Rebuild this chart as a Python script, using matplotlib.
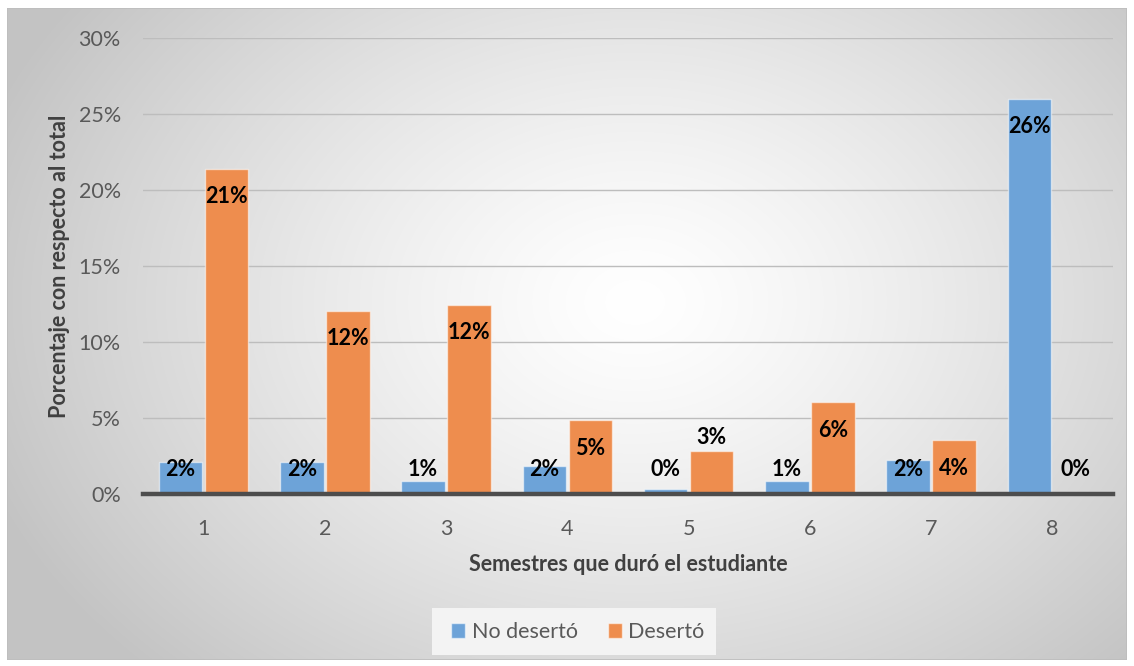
import numpy as np
import matplotlib
matplotlib.use("Agg")
import matplotlib.pyplot as plt
from matplotlib.patches import Rectangle

# Share of students (%) by number of semesters attended
semestres = ["1", "2", "3", "4", "5", "6", "7", "8"]
no_deserto = [2.1, 2.1, 0.85, 1.85, 0.35, 0.85, 2.25, 26.0]
deserto = [21.4, 12.05, 12.45, 4.85, 2.85, 6.05, 3.55, 0.0]
yticks = [0, 5, 10, 15, 20, 25, 30]

BLUE = "#6DA3D8"
ORANGE = "#EE8D4E"
TEXT = "#595959"
FONT = "Lato"

plt.rcParams["font.family"] = [FONT, "DejaVu Sans"]

W, H = 1134, 666
fig = plt.figure(figsize=(W / 100, H / 100), dpi=100, facecolor="white")

# Chart-area background: radial grey-to-white gradient with thin border
bg = fig.add_axes([7 / W, 1 - 660 / H, (1127 - 7) / W, (660 - 8) / H])
bg.set_axis_off()
ny, nx = 330, 560
yy, xx = np.mgrid[0:ny, 0:nx]
cx, cy = nx * 0.56, ny * 0.45
d = np.sqrt(((xx - cx) / (nx * 0.62)) ** 2 + ((yy - cy) / (ny * 0.80)) ** 2)
t = np.clip(d, 0, 1) ** 1.3
grey = 1.0 - t * (1.0 - 0.765)
img = np.dstack([grey, grey, grey])
bg.imshow(img, extent=[0, 1, 0, 1], aspect="auto", interpolation="bilinear")
bg.set_xlim(0, 1)
bg.set_ylim(0, 1)
bg.add_patch(Rectangle((0, 0), 1, 1, fill=False, edgecolor="#bdbdbd",
                       linewidth=1.2, transform=bg.transAxes))

ax = fig.add_axes([143 / W, 1 - 494 / H, (1113 - 143) / W, (494 - 38) / H])
ax.patch.set_alpha(0)

x = np.arange(len(semestres))
w = 0.36
off = 0.19
b1 = ax.bar(x - off, no_deserto, w, color=BLUE, edgecolor=(1, 1, 1, 0.55),
            linewidth=1.0, label="No desertó", zorder=3)
b2 = ax.bar(x + off, deserto, w, color=ORANGE, edgecolor=(1, 1, 1, 0.55),
            linewidth=1.0, label="Desertó", zorder=3)

FS = 15.5
ax.set_xlim(-0.5, len(semestres) - 0.5)
ax.set_ylim(0, 30)
ax.set_yticks(yticks)
ax.set_yticklabels([f"{v}%" for v in yticks], fontsize=FS, color=TEXT)
ax.set_xticks(x)
ax.set_xticklabels(semestres, fontsize=FS, color=TEXT)
ax.tick_params(length=0)
ax.tick_params(axis="x", pad=18)
ax.tick_params(axis="y", pad=16)
ax.grid(axis="y", color="#bdbdbd", linewidth=1.0, zorder=0)
ax.set_axisbelow(True)
for s in ["left", "right", "top"]:
    ax.spines[s].set_visible(False)
ax.spines["bottom"].set_color("#4d4d4d")
ax.spines["bottom"].set_linewidth(3.2)
ax.spines["bottom"].set_zorder(4)

ax.set_xlabel("Semestres que duró el estudiante", fontsize=FS,
              fontweight="bold", color="#404040", labelpad=11)
ax.set_ylabel("Porcentaje con respecto al total", fontsize=FS,
              fontweight="bold", color="#404040", labelpad=6)

# Value labels: just inside the bar top, never lower than a floor near the axis
inside = 1.85
floor = 1.6
above_orange = {4}
for bars, vals, series in ((b1, no_deserto, "n"), (b2, deserto, "d")):
    for i, (rect, v) in enumerate(zip(bars, vals)):
        xc = rect.get_x() + rect.get_width() / 2
        if series == "d" and i in above_orange:
            yc = v + 0.85
        else:
            yc = max(v - inside, floor)
        ax.text(xc, yc, f"{round(v + 1e-9):.0f}%", ha="center", va="center",
                fontsize=FS, fontweight="bold", color="black", zorder=5)

# Legend with its own light panel
fig.patches.append(Rectangle((432 / W, 1 - 655 / H), (716 - 432) / W,
                             (655 - 608) / H, transform=fig.transFigure,
                             facecolor="#f3f3f3", edgecolor="none", zorder=1))
leg = fig.legend(handles=[b1, b2], loc="center", bbox_to_anchor=(578 / W, 1 - 632 / H),
                 ncol=2, frameon=False, fontsize=FS, handlelength=0.65,
                 handleheight=0.65, handletextpad=0.3, columnspacing=1.4)
for t_ in leg.get_texts():
    t_.set_color(TEXT)

fig.savefig("out.png", dpi=100, facecolor="white")
